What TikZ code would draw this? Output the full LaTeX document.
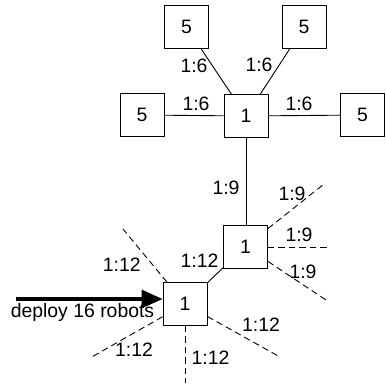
\documentclass[tikz,border=0pt]{standalone}
\usepackage{fontspec}
\setmainfont{Liberation Sans}
\usetikzlibrary{arrows.meta}
\begin{document}
\begin{tikzpicture}[x=1pt,y=-1pt,
  every node/.style={font=\fontsize{19.4}{22}\selectfont},
  cell/.style={draw,line width=0.9pt,minimum width=44pt,minimum height=43pt,inner sep=0pt},
  lbl/.style={anchor=base,inner sep=0pt},
  link/.style={line width=0.9pt},
  dlink/.style={line width=0.9pt,dash pattern=on 6.5pt off 4pt},
  feed/.style={line width=3.3pt,-{Triangle[length=21pt,width=18pt]}}]
\useasboundingbox (0,0) rectangle (385,387);
% boxes
\node[cell] (TL) at (186.5,27) {5};
\node[cell] (TR) at (304,27) {5};
\node[cell] (L) at (142,115) {5};
\node[cell] (C) at (246,116) {1};
\node[cell] (R) at (362.5,115) {5};
\node[cell] (M) at (245.5,246.5) {1};
\node[cell] (B) at (185,304) {1};
% solid links
\draw[link] (TL) -- (C);
\draw[link] (TR) -- (C);
\draw[link] (L) -- (C);
\draw[link] (R) -- (C);
\draw[link] (C.south) -- (C.south |- M.north);
\draw[link] (M) -- (B);
% dashed free ends
\coordinate (m1) at (324,184);
\coordinate (m2) at (327,247);
\coordinate (m3) at (326,300);
\coordinate (b1) at (123,229);
\coordinate (b2) at (90,358);
\coordinate (b3) at (185,383);
\coordinate (b4) at (280,357);
\draw[dlink] (M) -- (m1);
\draw[dlink] (M.east |- m2) -- (m2);
\draw[dlink] (M) -- (m3);
\draw[dlink] (B) -- (b1);
\draw[dlink] (B) -- (b2);
\draw[dlink] (B.south) -- (b3);
\draw[dlink] (B) -- (b4);
% arrow
\coordinate (A) at (16,299);
\draw[feed] (A) -- (A -| B.west);
% labels
\node[lbl] (t1) at (194,73) {1:6};
\node[lbl] (t2) at (259,72) {1:6};
\node[lbl] (t3) at (196,111) {1:6};
\node[lbl] (t4) at (299,111) {1:6};
\node[lbl] (t5) at (226,194) {1:9};
\node[lbl] (t6) at (292,200) {1:9};
\node[lbl] (t7) at (299,241.5) {1:9};
\node[lbl] (t8) at (303,278.5) {1:9};
\node[lbl] (t9) at (199.5,267.5) {1:12};
\node[lbl] (t10) at (121.7,271) {1:12};
\node[lbl] (t11) at (134,356.5) {1:12};
\node[lbl] (t12) at (210.5,364) {1:12};
\node[lbl] (t13) at (261,331.5) {1:12};
\node[lbl] (dep) at (82.5,317.5) {deploy 16 robots};
\end{tikzpicture}
\end{document}
